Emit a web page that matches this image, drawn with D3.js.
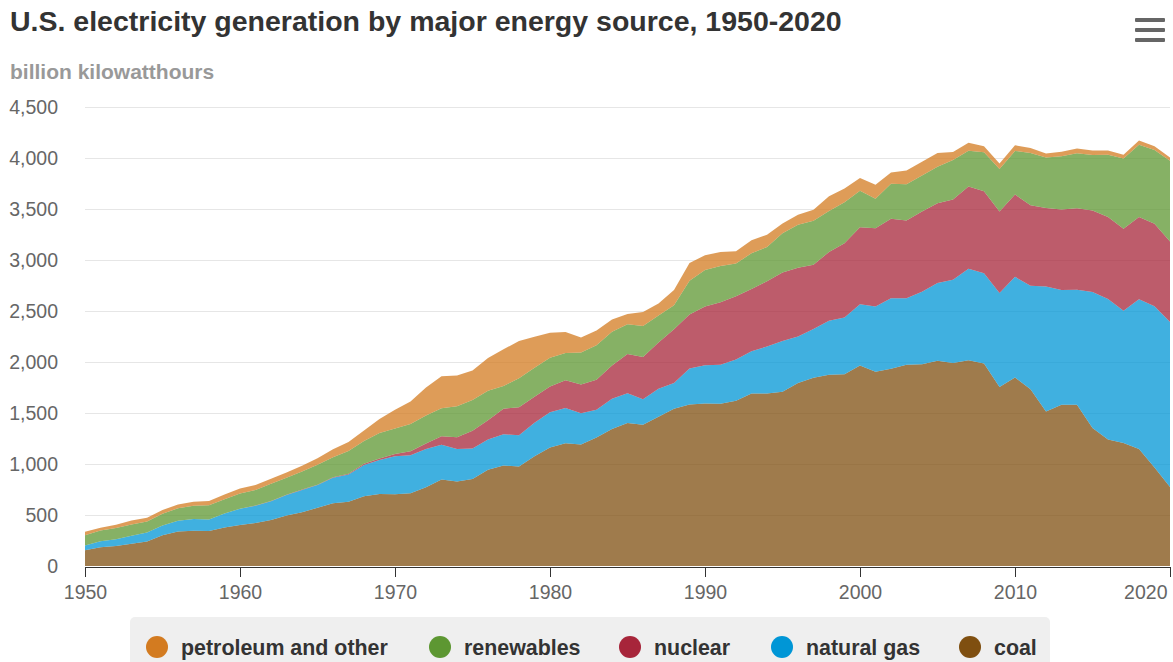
<!DOCTYPE html>
<html lang="en">
<head>
<meta charset="UTF-8">
<title>U.S. electricity generation by major energy source</title>
<script src="https://d3js.org/d3.v7.min.js"></script>
<style>
  body { margin: 0; background: #fff; }
  svg { display: block; font-family: "Liberation Sans", Arial, sans-serif; }
</style>
</head>
<body>
<div id="chart"></div>
<script>
// years on the x axis
var years = d3.range(1950, 2021);

// billion kilowatthours, one value per year 1950-2020
var coal = [155,185,195,219,239,301,339,346,344,378,
  403,422,450,494,526,571,614,631,685,706,
  704,713,771,848,828,853,944,985,976,1075,
  1162,1203,1192,1259,1342,1402,1386,1464,1541,1584,
  1594,1591,1621,1690,1691,1709,1795,1845,1874,1881,
  1966,1904,1933,1974,1978,2013,1991,2016,1986,1756,
  1847,1733,1514,1581,1582,1352,1239,1206,1146,965,
  774];
var naturalGas = [45,57,68,77,89,95,104,114,111,137,
  158,169,184,202,220,222,251,265,304,333,
  373,374,376,341,320,300,295,306,305,330,
  346,346,305,274,297,292,249,273,253,353,
  373,382,404,415,460,496,455,479,531,556,
  601,639,691,650,710,761,816,897,883,921,
  988,1014,1226,1125,1127,1335,1378,1296,1469,1582,
  1617];
var nuclear = [0,0,0,0,0,0,0,0,0.2,0.2,
  0.5,1.7,2.3,3.2,3.3,3.7,5.5,7.7,12.5,13.9,
  21.8,38.1,54.1,83.5,114,172.5,191.1,250.9,276.4,255.2,
  251.1,272.7,282.8,293.7,327.6,383.7,414,455.3,527,529.4,
  576.9,612.6,618.8,610.3,640.4,673.4,674.7,628.6,673.7,728.3,
  753.9,768.8,780.1,763.7,788.5,782,787.2,806.4,806.2,798.9,
  807,790.2,769.3,789,797.2,797.2,805.7,805,807.1,809.4,
  789.9];
var renewables = [101,105,110,110,109,116,124,130,141,139,
  150,153,169,166,177,195,196,224,224,251,
  249,268,275,275,304,303,288,224,284,284,
  282,267,314,338,330,292,304,263,235,330,
  357,355,323,351,335,384,420,433,402,400,
  357,288,344,356,352,357,385,352,381,417,
  427,513,495,522,540,544,610,687,707,723,
  792];
var petroleumOther = [34,29,32,40,35,37,36,39,40,46,
  48,49,49,52,57,65,79,89,104,138,
  184,220,274,314,301,289,320,358,365,304,
  246,206,147,144,120,100,137,119,149,175,
  145,139,118,128,122,95,100,108,145,135,
  125,138,110,133,135,137,80,78,60,52,
  55,48,40,44,48,46,42,38,43,35,
  33];

// stack order, bottom to top
var keys = ["coal", "natural gas", "nuclear", "renewables", "petroleum and other"];
var colors = {
  "coal": "#7f4f10",
  "natural gas": "#0096d6",
  "nuclear": "#a7253a",
  "renewables": "#5d9732",
  "petroleum and other": "#d37b20"
};
var legendOrder = ["petroleum and other", "renewables", "nuclear", "natural gas", "coal"];
var yTicks = [0,500,1000,1500,2000,2500,3000,3500,4000,4500];
var xTicks = [1950,1960,1970,1980,1990,2000,2010,2020];

var table = years.map(function(yr, i) {
  return {
    year: yr,
    "coal": coal[i],
    "natural gas": naturalGas[i],
    "nuclear": nuclear[i],
    "renewables": renewables[i],
    "petroleum and other": petroleumOther[i]
  };
});

var W = 1173, H = 662;
var plot = {left: 85, right: 1170, top: 107, bottom: 566};

var svg = d3.select("#chart").append("svg")
  .attr("width", W)
  .attr("height", H);

// title + subtitle
svg.append("text")
  .attr("x", 10).attr("y", 31)
  .style("font-size", "28.5px").style("font-weight", "bold")
  .style("fill", "#333")
  .text("U.S. electricity generation by major energy source, 1950-2020");

svg.append("text")
  .attr("x", 10).attr("y", 79)
  .style("font-size", "21px").style("font-weight", "bold")
  .style("fill", "#999")
  .text("billion kilowatthours");

// menu icon
svg.append("g").selectAll("rect")
  .data([20, 30, 40])
  .enter().append("rect")
  .attr("x", 1135).attr("y", function(d) { return d - 2; })
  .attr("width", 30).attr("height", 4).attr("rx", 1)
  .style("fill", "#666");

var x = d3.scaleLinear().domain([1950, 2020]).range([plot.left, plot.right]);
var y = d3.scaleLinear().domain([0, 4500]).range([plot.bottom, plot.top]);

// gridlines
svg.append("g").selectAll("line")
  .data(yTicks.slice(1))
  .enter().append("line")
  .attr("x1", plot.left).attr("x2", plot.right)
  .attr("y1", function(d) { return Math.round(y(d)) + 0.5; })
  .attr("y2", function(d) { return Math.round(y(d)) + 0.5; })
  .style("stroke", "#e6e6e6");

// stacked areas
var series = d3.stack().keys(keys)(table);
var area = d3.area()
  .x(function(d) { return x(d.data.year); })
  .y0(function(d) { return y(d[0]); })
  .y1(function(d) { return y(d[1]); });

svg.append("g").selectAll("path")
  .data(series)
  .enter().append("path")
  .attr("d", area)
  .style("fill", function(d) { return colors[d.key]; })
  .style("fill-opacity", 0.75);

// y axis labels
var yAxis = svg.append("g")
  .attr("transform", "translate(58,0)")
  .call(d3.axisLeft(y).tickValues(yTicks).tickSize(0).tickPadding(0).tickFormat(d3.format(",")));
yAxis.select(".domain").remove();
yAxis.selectAll("text")
  .style("font-size", "19.5px").style("fill", "#666")
  .style("font-family", "'Liberation Sans', Arial, sans-serif");

// x axis
var xAxis = svg.append("g")
  .attr("transform", "translate(0," + (plot.bottom + 1) + ")")
  .call(d3.axisBottom(x).tickValues(xTicks).tickSize(10).tickSizeOuter(0).tickPadding(8).tickFormat(d3.format("d")));
xAxis.select(".domain").style("stroke", "#333");
xAxis.selectAll(".tick line").style("stroke", "#333");
xAxis.selectAll("text")
  .style("font-size", "19.5px").style("fill", "#666")
  .style("font-family", "'Liberation Sans', Arial, sans-serif");
// keep the last label inside the chart
xAxis.selectAll(".tick text").filter(function(d) { return d === 2020; })
  .attr("text-anchor", "end").attr("dx", "-3");

// legend
var legend = svg.append("g");
legend.append("rect")
  .attr("x", 130).attr("y", 617)
  .attr("width", 920).attr("height", 60).attr("rx", 5)
  .style("fill", "#efefef");

var legendX = [157, 440, 630, 782, 970];
var item = legend.selectAll("g.item")
  .data(legendOrder)
  .enter().append("g")
  .attr("class", "item")
  .attr("transform", function(d, i) { return "translate(" + legendX[i] + ",647)"; });
item.append("circle")
  .attr("r", 11)
  .style("fill", function(d) { return colors[d]; });
item.append("text")
  .attr("x", 24).attr("dy", "0.35em")
  .style("font-size", "21.4px").style("font-weight", "bold")
  .style("fill", "#333")
  .text(function(d) { return d; });
</script>
</body>
</html>
